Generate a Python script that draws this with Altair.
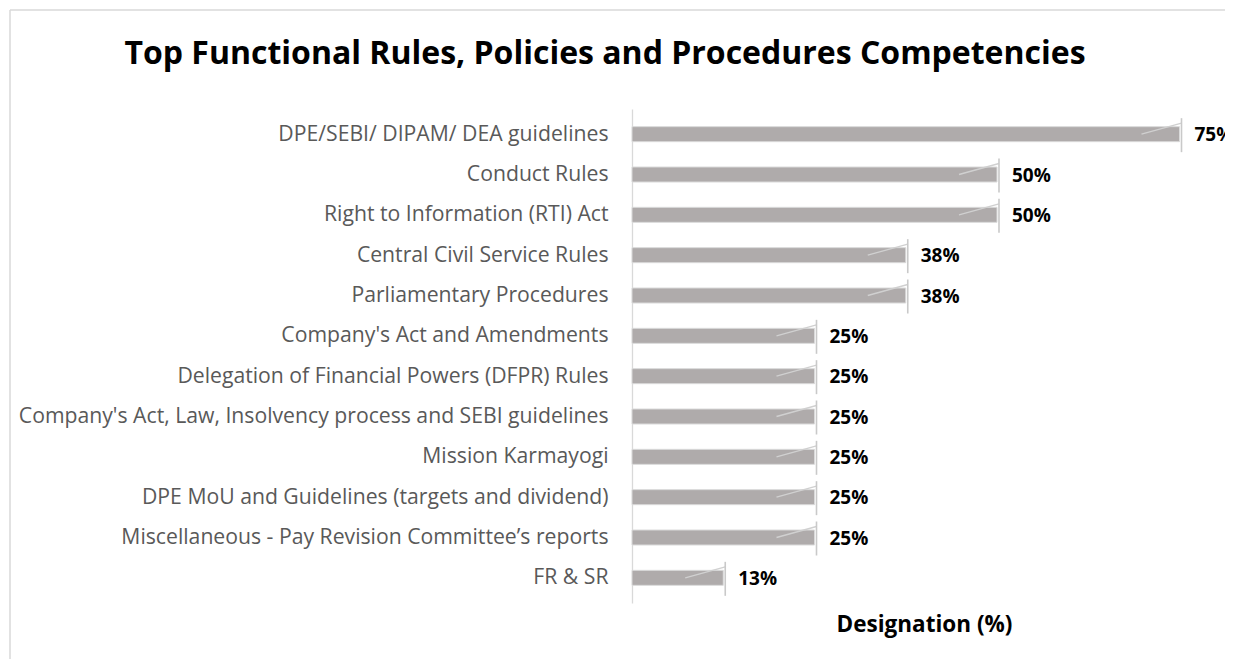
import altair as alt
import pandas as pd
import json

title_text = "Top Functional Rules, Policies and Procedures Competencies"
x_title = "Designation (%)"
categories = [
    "DPE/SEBI/ DIPAM/ DEA guidelines",
    "Conduct Rules",
    "Right to Information (RTI) Act",
    "Central Civil Service Rules",
    "Parliamentary Procedures",
    "Company's Act and Amendments",
    "Delegation of Financial Powers (DFPR) Rules",
    "Company's Act, Law, Insolvency process and SEBI guidelines",
    "Mission Karmayogi",
    "DPE MoU and Guidelines (targets and dividend)",
    "Miscellaneous - Pay Revision Committee\u2019s reports",
    "FR & SR",
]
values = [75, 50, 50, 37.5, 37.5, 25, 25, 25, 25, 25, 25, 12.5]

df = pd.DataFrame({"cat": categories, "idx": list(range(len(categories))), "val": values})

FONT = "Open Sans"
label_expr = json.dumps(categories) + "[datum.value]"

y_enc = alt.Y(
    "idx:Q",
    scale=alt.Scale(domain=[-0.5, len(categories) - 0.5], reverse=True, nice=False, zero=False),
    axis=alt.Axis(
        values=list(range(len(categories))),
        labelExpr=label_expr,
        title=None,
        ticks=False,
        tickSize=0,
        grid=False,
        domainColor="#D9D9D9",
        domainWidth=1.3,
        labelColor="#595959",
        labelFont=FONT,
        labelFontSize=21.2,
        labelPadding=24,
        labelLimit=700,
    ),
)
x_enc = alt.X(
    "val:Q",
    scale=alt.Scale(domain=[0, 80], nice=False),
    axis=alt.Axis(
        title=x_title,
        labels=False,
        ticks=False,
        domain=False,
        grid=False,
        titleFont=FONT,
        titleFontSize=22.5,
        titleFontWeight="bold",
        titleColor="#000000",
        titlePadding=10,
    ),
)

base = alt.Chart(df)

bars = base.mark_bar(orient="horizontal", size=15, color="#AFABAB", stroke="#DADADA", strokeWidth=1).encode(
    x=x_enc, y=y_enc
)
cap = base.mark_rule(color="#C9C9C9", strokeWidth=1.6, xOffset=2, yOffset=-16, y2Offset=18).encode(
    x="val:Q", y="idx:Q", y2="idx:Q"
)
diag = base.mark_rule(color="#D0D0D0", strokeWidth=1.4, xOffset=-38, x2Offset=2, yOffset=0, y2Offset=-11).encode(
    x="val:Q", x2="val:Q", y="idx:Q", y2="idx:Q"
)
labels = base.transform_calculate(lbl="format(datum.val, '.0f') + '%'").mark_text(
    align="left", baseline="middle", dx=15, dy=1, font=FONT, fontSize=19, fontWeight="bold", color="#000000"
).encode(x="val:Q", y="idx:Q", text="lbl:N")

one = pd.DataFrame({"t": [title_text]})
border = alt.Chart(one).mark_rule(color="#D9D9D9", strokeWidth=1.5).encode(
    x=alt.value(-622), y=alt.value(-99), y2=alt.value(600)
)
border_top = alt.Chart(one).mark_rule(color="#D9D9D9", strokeWidth=1.5).encode(
    x=alt.value(-622), x2=alt.value(700), y=alt.value(-99)
)
title = alt.Chart(one).mark_text(
    align="center", baseline="alphabetic", font=FONT, fontSize=32, fontWeight="bold", color="#000000"
).encode(x=alt.value(-27), y=alt.value(-45), text="t:N")

chart = (
    alt.layer(border, border_top, title, bars, diag, cap, labels)
    .properties(
        width=584,
        height=494,
        autosize=alt.AutoSizeParams(type="none"),
        padding={"left": 624, "top": 101, "right": 9, "bottom": 56},
    )
    .configure(background="#FFFFFF", view=alt.ViewConfig(strokeWidth=0, stroke="transparent"))
)

chart.save("out.html", embed_options={"renderer": "svg", "actions": False})
